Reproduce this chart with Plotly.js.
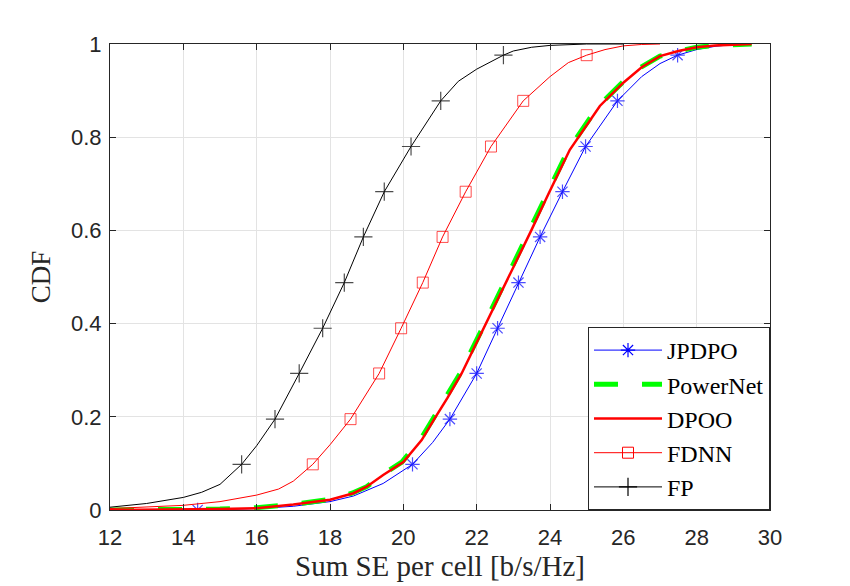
<!DOCTYPE html>
<html>
<head>
<meta charset="utf-8">
<script src="https://cdn.plot.ly/plotly-3.0.1.min.js"></script>
<style>
  html, body { margin: 0; padding: 0; background: #ffffff; }
  #chart { width: 850px; height: 586px; }
</style>
</head>
<body>
<div id="chart"></div>
<script>
// ---- Data ----
var seriesNames = ["JPDPO", "PowerNet", "DPOO", "FDNN", "FP"];

var jpdpoX = [14.39, 15, 16, 17, 18, 18.64, 19.45, 20.25, 20.8, 21.27, 22.0, 22.57, 23.14, 23.73, 24.34, 24.97, 25.84, 26.5, 27.0, 27.48, 28.0, 28.5, 29.0, 29.4];
var jpdpoF = [0, 0.001, 0.003, 0.008, 0.018, 0.03, 0.057, 0.098, 0.145, 0.195, 0.293, 0.39, 0.488, 0.586, 0.683, 0.78, 0.878, 0.93, 0.958, 0.976, 0.988, 0.995, 0.999, 1];
var jpdpoMarkIdx = [0, 7, 9, 10, 11, 12, 13, 14, 15, 16, 19];

var powernetX = [12, 14, 15, 16, 17, 18, 18.6, 19, 19.42, 19.96, 20.46, 20.82, 21.16, 21.55, 22.22, 22.77, 23.45, 23.92, 24.5, 25.32, 25.97, 26.48, 27.0, 27.5, 28.0, 28.5, 29.0, 29.5];
var powernetF = [0, 0.001, 0.002, 0.005, 0.012, 0.023, 0.036, 0.05, 0.075, 0.103, 0.15, 0.197, 0.24, 0.293, 0.4, 0.49, 0.6, 0.678, 0.773, 0.867, 0.917, 0.95, 0.974, 0.985, 0.993, 0.997, 0.999, 1];

var dpooX = [12, 14, 15, 16, 17, 18, 18.64, 19, 19.45, 20, 20.5, 20.86, 21.2, 21.59, 22.26, 22.81, 23.49, 23.95, 24.54, 25.36, 26.0, 26.5, 27.0, 27.5, 28.0, 28.5, 29.0, 29.5];
var dpooF = [0, 0.001, 0.002, 0.004, 0.012, 0.022, 0.036, 0.05, 0.075, 0.103, 0.15, 0.197, 0.24, 0.293, 0.4, 0.49, 0.6, 0.677, 0.773, 0.867, 0.917, 0.95, 0.974, 0.985, 0.993, 0.997, 0.999, 1];

var fdnnX = [12, 13, 14, 15, 16, 16.6, 17, 17.53, 18, 18.56, 19.34, 19.94, 20.53, 21.07, 21.7, 22.39, 23.27, 24.0, 24.5, 25.0, 25.5, 26.0, 26.5, 27.0];
var fdnnF = [0.003, 0.006, 0.01, 0.018, 0.032, 0.045, 0.062, 0.098, 0.14, 0.195, 0.293, 0.39, 0.488, 0.586, 0.683, 0.78, 0.878, 0.93, 0.96, 0.976, 0.988, 0.996, 0.999, 1];
var fdnnMarkIdx = [7, 9, 10, 11, 12, 13, 14, 15, 16, 19];

var fpX = [12, 13, 14, 14.5, 15, 15.59, 16, 16.5, 17.16, 17.8, 18.39, 18.91, 19.48, 20.21, 21.02, 21.5, 22.0, 22.73, 23.0, 23.5, 24.0, 25.0, 26.0];
var fpF = [0.006, 0.014, 0.027, 0.038, 0.055, 0.098, 0.138, 0.195, 0.293, 0.39, 0.488, 0.586, 0.683, 0.78, 0.878, 0.92, 0.946, 0.976, 0.985, 0.993, 0.997, 1, 1];
var fpMarkIdx = [5, 7, 8, 9, 10, 11, 12, 13, 14, 17];

var xTicks = [12, 14, 16, 18, 20, 22, 24, 26, 28, 30];
var yTicks = [0, 0.2, 0.4, 0.6, 0.8, 1];
var yTickText = ["0", "0.2", "0.4", "0.6", "0.8", "1"];

// ---- Styles ----
var styles = [
  { line: { color: "#0000ff", width: 1 }, symbol: "asterisk-open", msize: 12, mcolor: "#0000ff", mlw: 1.2 },
  { line: { color: "#00ff00", width: 5, dash: "24px,24px" }, symbol: null },
  { line: { color: "#ff0000", width: 2.5 }, symbol: null },
  { line: { color: "#ff0000", width: 1 }, symbol: "square-open", msize: 11, mcolor: "#ff0000", mlw: 1 },
  { line: { color: "#000000", width: 1 }, symbol: "cross-thin-open", msize: 13, mcolor: "#000000", mlw: 1.2 }
];

var curveX = [jpdpoX, powernetX, dpooX, fdnnX, fpX];
var curveF = [jpdpoF, powernetF, dpooF, fdnnF, fpF];
var curveMarks = [jpdpoMarkIdx, null, null, fdnnMarkIdx, fpMarkIdx];

function markSizes(n, idx, s) {
  var out = [];
  for (var i = 0; i < n; i++) out.push(idx.indexOf(i) >= 0 ? s : 0);
  return out;
}

var traces = [];
// curves drawn from the data arrays
for (var k = 0; k < seriesNames.length; k++) {
  var st = styles[k];
  var t = {
    name: seriesNames[k], x: curveX[k], y: curveF[k], type: "scatter",
    mode: st.symbol ? "lines+markers" : "lines", line: st.line, showlegend: false
  };
  if (st.symbol) {
    t.marker = { symbol: st.symbol, color: st.mcolor, size: markSizes(curveX[k].length, curveMarks[k], st.msize), line: { color: st.mcolor, width: st.mlw } };
  }
  traces.push(t);
}
// legend entries (no plotted points)
for (var j = 0; j < seriesNames.length; j++) {
  var s2 = styles[j];
  var lt = {
    name: seriesNames[j], x: [null], y: [null], type: "scatter",
    mode: s2.symbol ? "lines+markers" : "lines", line: s2.line, showlegend: true
  };
  if (s2.symbol) {
    lt.marker = { symbol: s2.symbol, color: s2.mcolor, size: s2.msize, line: { color: s2.mcolor, width: s2.mlw } };
  }
  traces.push(lt);
}

var axisCommon = {
  showline: true, linecolor: "#262626", linewidth: 1, mirror: "ticks",
  ticks: "inside", ticklen: 6, tickcolor: "#262626", tickwidth: 1,
  showgrid: true, gridcolor: "#e3e3e3", gridwidth: 1, zeroline: false,
  tickfont: { family: "Liberation Sans, Arial, sans-serif", size: 22, color: "#262626" }
};

var layout = {
  width: 850, height: 586,
  margin: { l: 110, r: 80, t: 44, b: 76 },
  paper_bgcolor: "#ffffff", plot_bgcolor: "#ffffff",
  showlegend: true,
  xaxis: Object.assign({}, axisCommon, {
    range: [12, 30], tickvals: xTicks, ticklabelstandoff: 8,
    title: { text: "Sum SE per cell [b/s/Hz]", font: { family: "Liberation Serif, Times New Roman, serif", size: 29, color: "#262626" }, standoff: 3 }
  }),
  yaxis: Object.assign({}, axisCommon, {
    range: [0, 1], tickvals: yTicks, ticktext: yTickText, ticklabelstandoff: 3,
    title: { text: "CDF", font: { family: "Liberation Serif, Times New Roman, serif", size: 27, color: "#262626" }, standoff: 12 }
  }),
  legend: {
    x: 1, xanchor: "right", y: 0, yanchor: "bottom",
    bgcolor: "#ffffff", bordercolor: "#262626", borderwidth: 1,
    font: { family: "Liberation Serif, Times New Roman, serif", size: 24, color: "#000000" },
    itemwidth: 68, tracegroupgap: 0
  }
};

Plotly.newPlot("chart", traces, layout, { displayModeBar: false, staticPlot: true });
</script>
</body>
</html>
